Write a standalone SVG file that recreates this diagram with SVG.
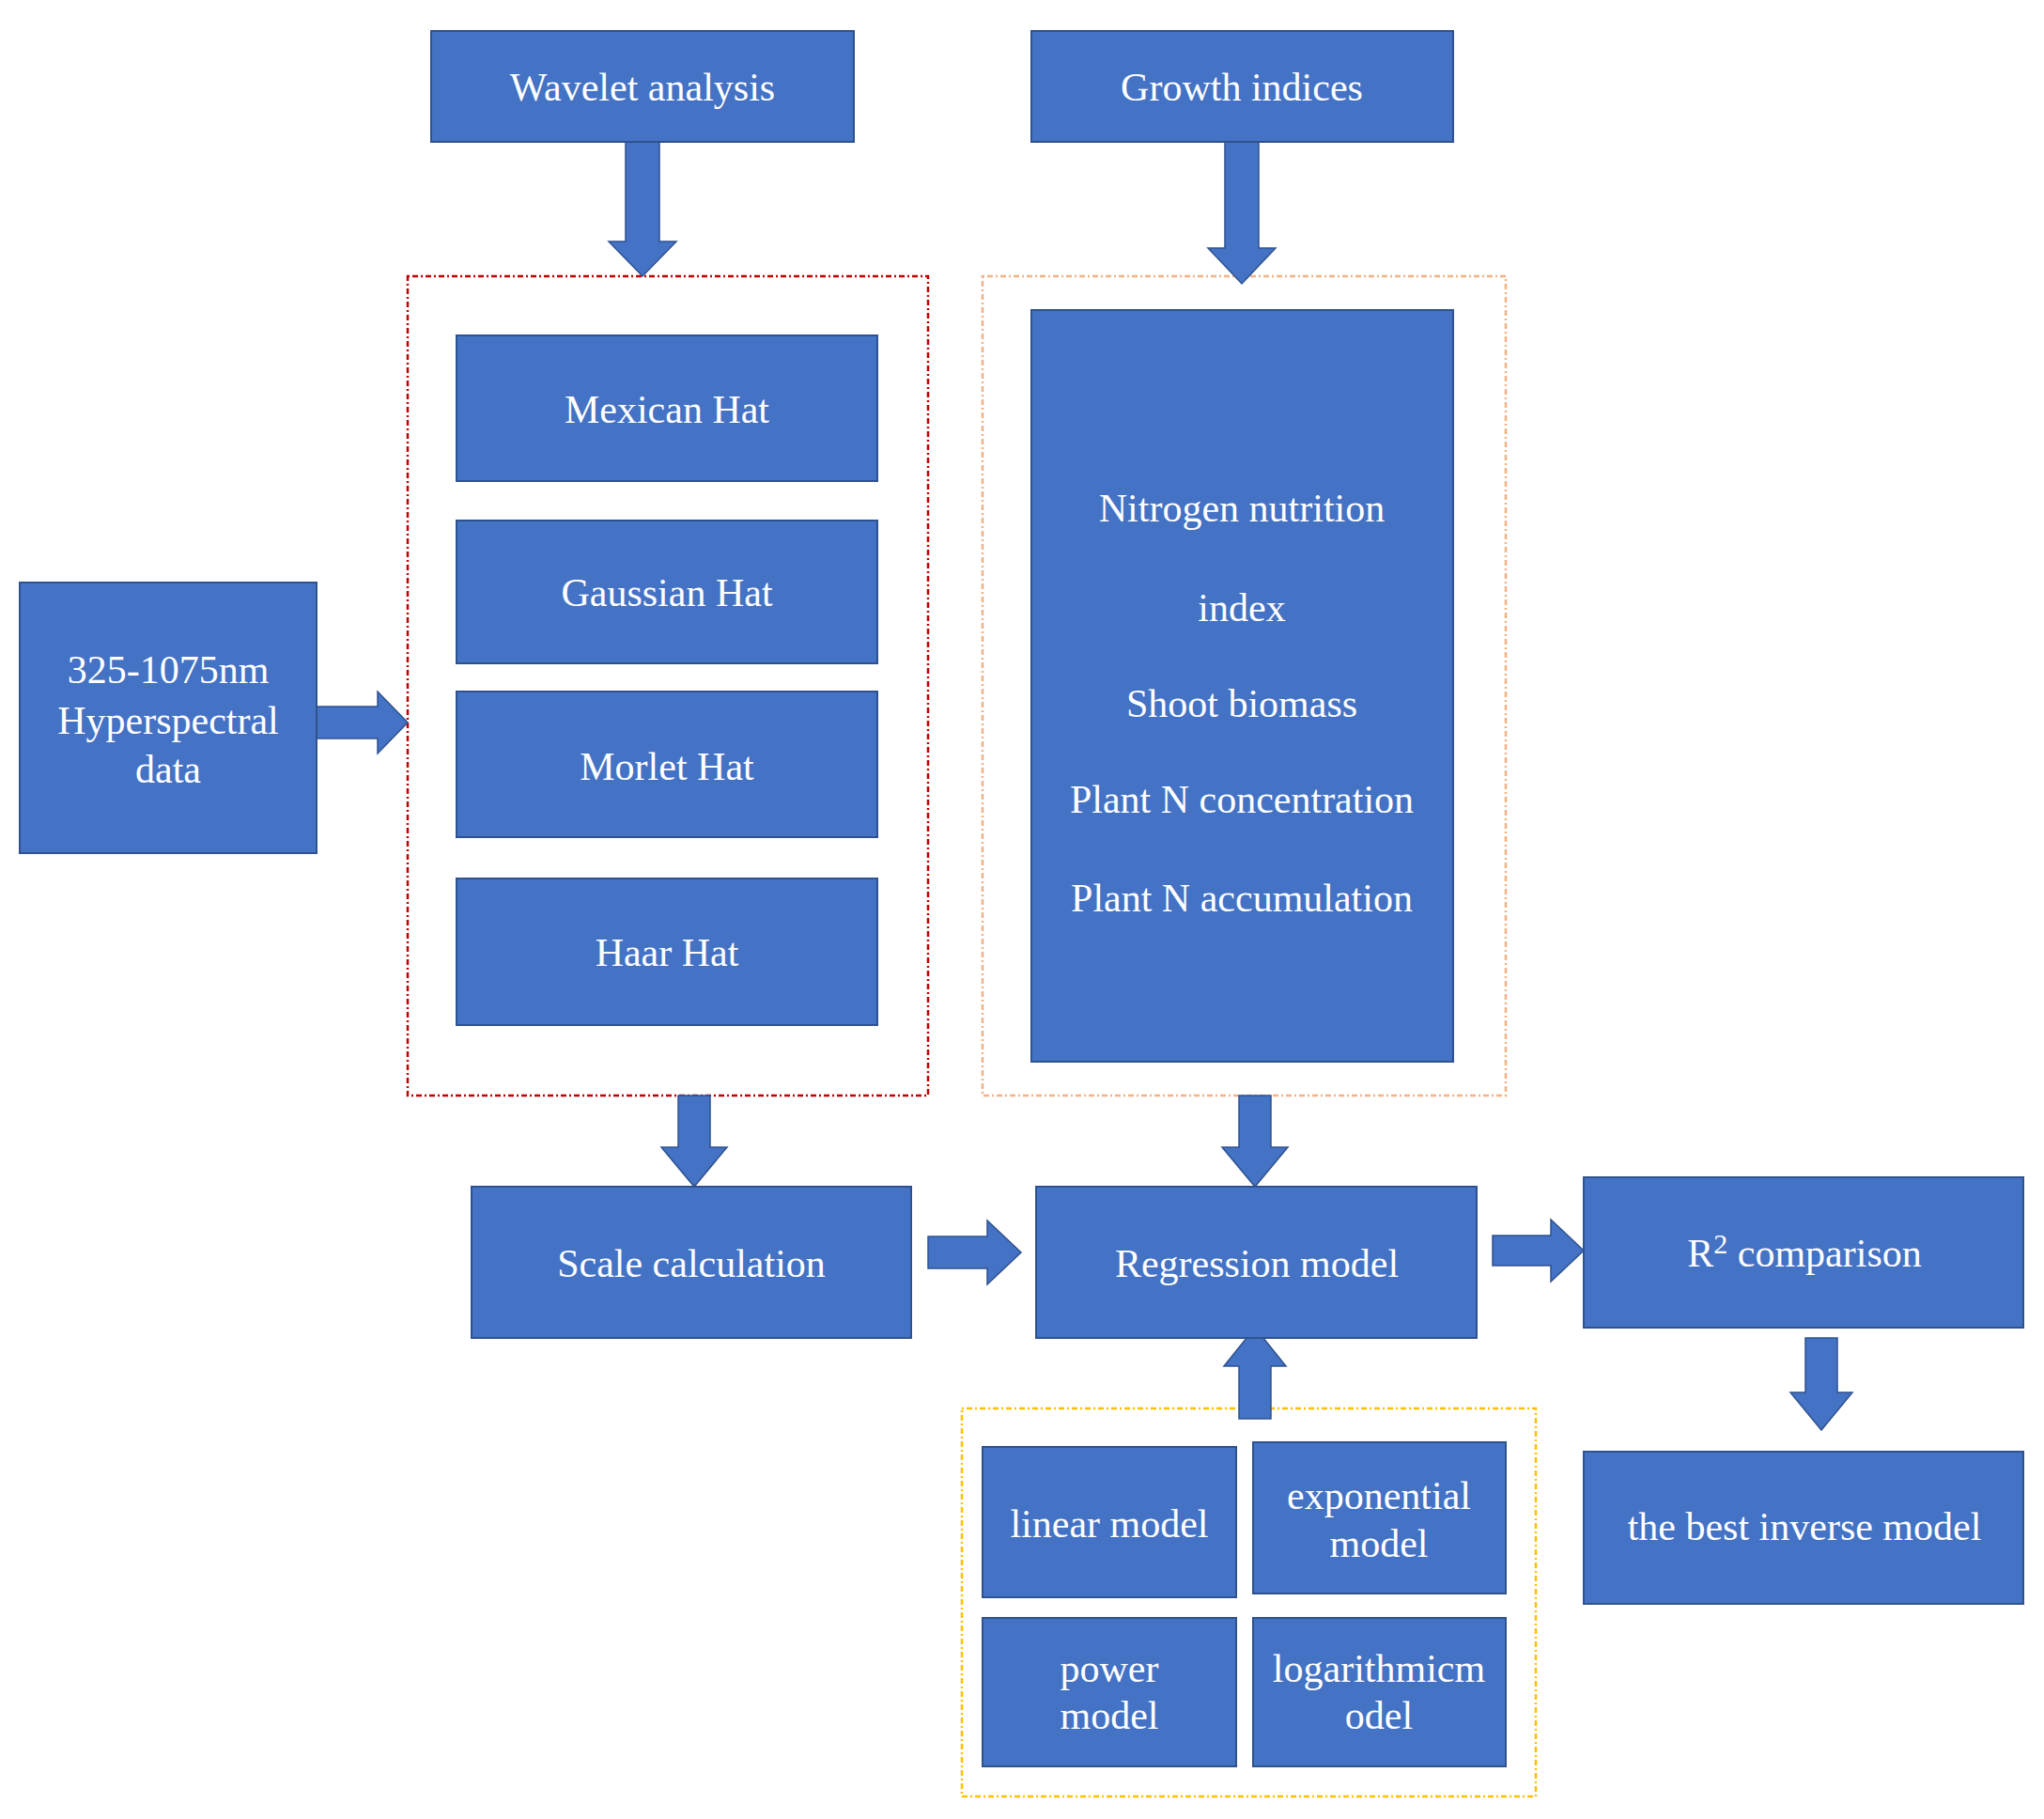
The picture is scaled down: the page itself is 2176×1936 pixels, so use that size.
<svg xmlns="http://www.w3.org/2000/svg" width="2176" height="1936" viewBox="0 0 2176 1936">
<style>
.box{fill:#4472C4;stroke:#2F528F;stroke-width:2}
.arr{fill:#4472C4;stroke:#2F528F;stroke-width:1.5}
.t{fill:#ffffff;font-family:"Liberation Serif","Times New Roman",serif;font-size:42px;text-anchor:middle}
.dash{fill:none;stroke-width:2.5;stroke-dasharray:2 3 6 3}
</style>
<rect width="2176" height="1936" fill="#ffffff"/>
<g id="groups">
<rect id="wavelet-group" class="dash" x="434" y="294" width="554" height="872" stroke="#C00000"/>
<rect id="growth-group" class="dash" x="1046" y="294" width="557" height="872" stroke="#F4B183"/>
<rect id="model-group" class="dash" x="1024" y="1499" width="611" height="413" stroke="#FFC000"/>
</g>
<g id="connectors">
<polygon class="arr" points="666,146 702,146 702,257 720,257 684,294 648,257 666,257"/>
<polygon class="arr" points="1304,151 1340,151 1340,264 1358,264 1322,302 1286,264 1304,264"/>
<polygon class="arr" points="722,1166 756,1166 756,1221 774,1221 739,1263 704,1221 722,1221"/>
<polygon class="arr" points="1319,1166 1353,1166 1353,1221 1371,1221 1336,1263 1301,1221 1319,1221"/>
<polygon class="arr" points="1922,1424 1956,1424 1956,1482 1972,1482 1939,1522 1906,1482 1922,1482"/>
<polygon class="arr" points="1319,1510 1353,1510 1353,1454 1369,1454 1336,1413 1303,1454 1319,1454"/>
<polygon class="arr" points="337,752 402,752 402,736 434,769 402,802 402,786 337,786"/>
<polygon class="arr" points="988,1316 1051,1316 1051,1299 1087,1333 1051,1367 1051,1350 988,1350"/>
<polygon class="arr" points="1589,1315 1651,1315 1651,1298 1686,1331 1651,1364 1651,1347 1589,1347"/>
</g>
<g id="wavelet-analysis"><rect class="box" x="459" y="33" width="450" height="118"/><text class="t" x="684" y="107">Wavelet analysis</text></g>
<g id="growth-indices"><rect class="box" x="1098" y="33" width="449" height="118"/><text class="t" x="1322" y="107">Growth indices</text></g>
<g id="mexican-hat"><rect class="box" x="486" y="357" width="448" height="155"/><text class="t" x="710" y="450">Mexican Hat</text></g>
<g id="gaussian-hat"><rect class="box" x="486" y="554" width="448" height="152"/><text class="t" x="710" y="645">Gaussian Hat</text></g>
<g id="morlet-hat"><rect class="box" x="486" y="736" width="448" height="155"/><text class="t" x="710" y="830">Morlet Hat</text></g>
<g id="haar-hat"><rect class="box" x="486" y="935" width="448" height="156"/><text class="t" x="710" y="1028">Haar Hat</text></g>
<g id="hyperspectral"><rect class="box" x="21" y="620" width="316" height="288"/><text class="t" x="179" y="727">325-1075nm</text><text class="t" x="179" y="781">Hyperspectral</text><text class="t" x="179" y="833">data</text></g>
<g id="indices-list"><rect class="box" x="1098" y="330" width="449" height="800"/>
<text class="t" x="1322" y="555">Nitrogen nutrition</text>
<text class="t" x="1322" y="661">index</text>
<text class="t" x="1322" y="763">Shoot biomass</text>
<text class="t" x="1322" y="865">Plant N concentration</text>
<text class="t" x="1322" y="970">Plant N accumulation</text></g>
<g id="scale-calculation"><rect class="box" x="502" y="1263" width="468" height="161"/><text class="t" x="736" y="1359">Scale calculation</text></g>
<g id="regression-model"><rect class="box" x="1103" y="1263" width="469" height="161"/><text class="t" x="1338" y="1359">Regression model</text></g>
<g id="r2-comparison"><rect class="box" x="1686" y="1253" width="468" height="160"/><text class="t" x="1921" y="1348">R<tspan font-size="30" dy="-14">2</tspan><tspan dy="14"> comparison</tspan></text></g>
<g id="best-inverse-model"><rect class="box" x="1686" y="1545" width="468" height="162"/><text class="t" x="1921" y="1639">the best inverse model</text></g>
<g id="linear-model"><rect class="box" x="1046" y="1540" width="270" height="160"/><text class="t" x="1181" y="1636">linear model</text></g>
<g id="exponential-model"><rect class="box" x="1334" y="1535" width="269" height="161"/><text class="t" x="1468" y="1606">exponential</text><text class="t" x="1468" y="1657">model</text></g>
<g id="power-model"><rect class="box" x="1046" y="1722" width="270" height="158"/><text class="t" x="1181" y="1790">power</text><text class="t" x="1181" y="1840">model</text></g>
<g id="logarithmic-model"><rect class="box" x="1334" y="1722" width="269" height="158"/><text class="t" x="1468" y="1790">logarithmicm</text><text class="t" x="1468" y="1840">odel</text></g>
</svg>
